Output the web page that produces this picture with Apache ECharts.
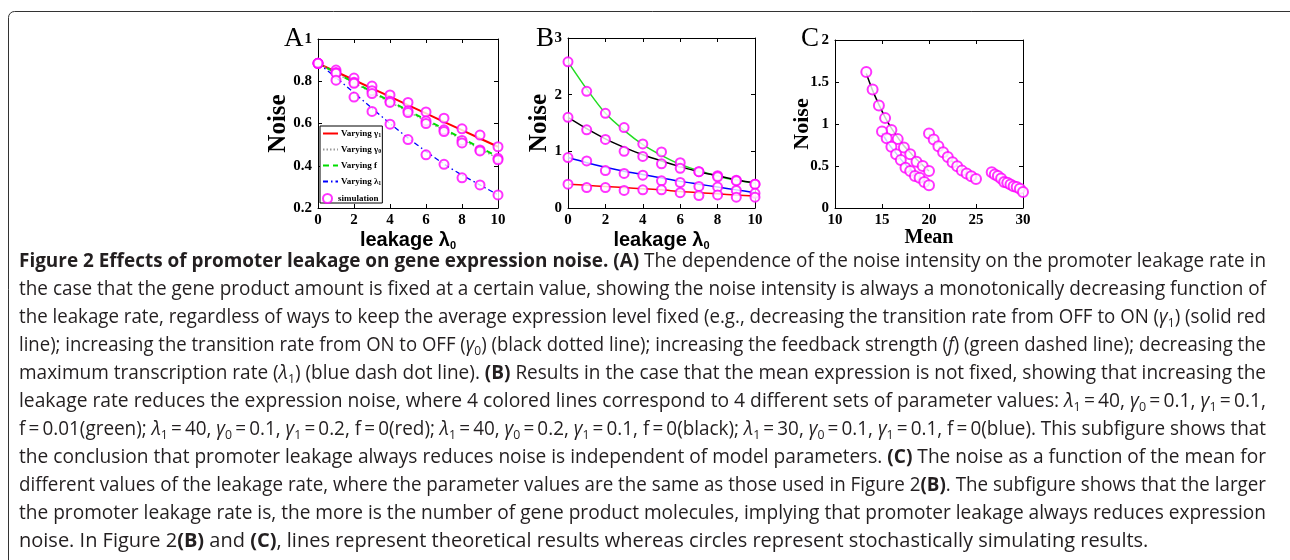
<!DOCTYPE html>
<html><head><meta charset="utf-8">
<script src="https://cdn.jsdelivr.net/npm/echarts/dist/echarts.min.js"></script>
<style>html,body{margin:0;padding:0;background:#fff}#c{width:1290px;height:560px}</style>
</head><body><div id="c"></div>
<script>
// ---------- data ----------
const xLeak = [0,1,2,3,4,5,6,7,8,9,10];
// Panel A (mean fixed)
const aRedLine   = [0.885,0.845,0.806,0.766,0.727,0.687,0.648,0.608,0.569,0.529,0.490];
const aGrayLine  = [0.885,0.838,0.792,0.746,0.701,0.656,0.612,0.568,0.524,0.479,0.435];
const aGreenLine = [0.885,0.840,0.795,0.750,0.706,0.662,0.618,0.574,0.530,0.486,0.442];
const aBlueLine  = [0.885,0.818,0.745,0.672,0.600,0.532,0.468,0.408,0.356,0.309,0.262];
const aRedSim    = [0.885,0.853,0.815,0.777,0.735,0.700,0.655,0.625,0.575,0.545,0.490];
const aGraySim   = [0.885,0.842,0.795,0.755,0.705,0.660,0.612,0.570,0.520,0.475,0.435];
const aGreenSim  = [0.885,0.838,0.790,0.742,0.700,0.652,0.600,0.562,0.508,0.470,0.428];
const aBlueSim   = [0.885,0.805,0.725,0.657,0.597,0.524,0.452,0.407,0.343,0.309,0.262];
// Panel B (mean not fixed)
const bGreenLine = [2.58,2.10,1.67,1.37,1.12,0.93,0.77,0.66,0.56,0.49,0.44];
const bBlackLine = [1.60,1.40,1.22,1.07,0.94,0.83,0.73,0.64,0.57,0.50,0.44];
const bBlueLine  = [0.89,0.80,0.72,0.65,0.59,0.53,0.47,0.42,0.37,0.32,0.27];
const bRedLine   = [0.42,0.40,0.38,0.36,0.34,0.32,0.29,0.27,0.25,0.23,0.21];
const bGreenSim  = [2.58,2.06,1.67,1.42,1.13,0.99,0.80,0.64,0.57,0.49,0.42];
const bBlackSim  = [1.60,1.38,1.21,1.00,0.91,0.78,0.70,0.64,0.55,0.48,0.42];
const bBlueSim   = [0.89,0.83,0.66,0.61,0.58,0.48,0.45,0.38,0.37,0.31,0.26];
const bRedSim    = [0.42,0.36,0.36,0.31,0.32,0.32,0.27,0.22,0.23,0.19,0.19];
// Panel C (noise vs mean)
const cMeanBlack = [13.33,14.0,14.67,15.33,16.0,16.67,17.33,18.0,18.67,19.33,20.0];
const cMeanBlue  = [15.0,15.5,16.0,16.5,17.0,17.5,18.0,18.5,19.0,19.5,20.0];
const cMeanGreen = [20.0,20.5,21.0,21.5,22.0,22.5,23.0,23.5,24.0,24.5,25.0];
const cMeanRed   = [26.67,27.0,27.33,27.67,28.0,28.33,28.67,29.0,29.33,29.67,30.0];
const cBlackLine = [1.60,1.40,1.23,1.08,0.95,0.84,0.74,0.66,0.58,0.51,0.44];
const cBlueLine  = [0.89,0.80,0.72,0.65,0.58,0.52,0.46,0.41,0.36,0.31,0.27];
const cGreenLine = [0.88,0.81,0.74,0.67,0.61,0.55,0.50,0.45,0.41,0.38,0.35];
const cRedLine   = [0.41,0.39,0.37,0.35,0.33,0.31,0.29,0.27,0.25,0.23,0.21];
const cBlackSim  = [1.62,1.41,1.22,1.07,0.93,0.82,0.72,0.64,0.55,0.50,0.44];
const cBlueSim   = [0.91,0.83,0.73,0.64,0.57,0.48,0.44,0.38,0.36,0.31,0.27];
const cGreenSim  = [0.887,0.815,0.736,0.664,0.608,0.545,0.497,0.445,0.41,0.378,0.346];
const cRedSim    = [0.425,0.40,0.38,0.35,0.31,0.30,0.28,0.26,0.25,0.23,0.19];
// Tick / label texts
const legendNames = ['Varying γ1','Varying γ0','Varying f','Varying λ1'];
const simName = 'simulation';
const panelLetters = ['A','B','C'];
const captionLines = [
 '{b|Figure 2 Effects of promoter leakage on gene expression noise. (A)} The dependence of the noise intensity on the promoter leakage rate in',
 'the case that the gene product amount is fixed at a certain value, showing the noise intensity is always a monotonically decreasing function of',
 'the leakage rate, regardless of ways to keep the average expression level fixed (e.g., decreasing the transition rate from OFF to ON ({i|γ}{s|1}) (solid red',
 'line); increasing the transition rate from ON to OFF ({i|γ}{s|0}) (black dotted line); increasing the feedback strength ({i|f}) (green dashed line); decreasing the',
 'maximum transcription rate ({i|λ}{s|1}) (blue dash dot line). {b|(B)} Results in the case that the mean expression is not fixed, showing that increasing the',
 'leakage rate reduces the expression noise, where 4 colored lines correspond to 4 different sets of parameter values: {i|λ}{s|1}\u2009=\u200940, {i|γ}{s|0}\u2009=\u20090.1, {i|γ}{s|1}\u2009=\u20090.1,',
 'f\u2009=\u20090.01(green); {i|λ}{s|1}\u2009=\u200940, {i|γ}{s|0}\u2009=\u20090.1, {i|γ}{s|1}\u2009=\u20090.2, f\u2009=\u20090(red); {i|λ}{s|1}\u2009=\u200940, {i|γ}{s|0}\u2009=\u20090.2, {i|γ}{s|1}\u2009=\u20090.1, f\u2009=\u20090(black); {i|λ}{s|1}\u2009=\u200930, {i|γ}{s|0}\u2009=\u20090.1, {i|γ}{s|1}\u2009=\u20090.1, f\u2009=\u20090(blue). This subfigure shows that',
 'the conclusion that promoter leakage always reduces noise is independent of model parameters. {b|(C)} The noise as a function of the mean for',
 'different values of the leakage rate, where the parameter values are the same as those used in Figure 2{b|(B)}. The subfigure shows that the larger',
 'the promoter leakage rate is, the more is the number of gene product molecules, implying that promoter leakage always reduces expression',
 'noise. In Figure 2{b|(B)} and {b|(C)}, lines represent theoretical results whereas circles represent stochastically simulating results.'
];

// ---------- helpers ----------
const zip = (xs, ys) => xs.map((x, i) => [x, ys[i]]);
const SERIF = 'Liberation Serif';
const CAP_FONT = 'Open Sans';
const CAP_SIZE = 20;
const SUB_SIZE = 13;
const CAP_COLOR = '#231f20';
const MAG = '#ff00ff';

const grids = [
  {left: 318, top: 39, width: 180, height: 169},
  {left: 568, top: 38, width: 187, height: 170},
  {left: 835, top: 40, width: 188, height: 168}
];
const xRanges = [[0,10,2],[0,10,2],[10,30,5]];
const yRanges = [[0.2,1,0.2],[0,3,1],[0,2,0.5]];

const tickLabel = {fontFamily: SERIF, fontWeight: 'bold', fontSize: 15, color: '#000'};
function axisBase(i, rng, pos) {
  return {type: 'value', gridIndex: i, min: rng[0], max: rng[1], interval: rng[2], position: pos,
    axisLine: {show: true, onZero: false, lineStyle: {color: '#000', width: 1}},
    axisTick: {show: true, inside: true, length: 4, lineStyle: {color: '#000'}},
    splitLine: {show: false}};
}
function mainX(i, name, nameStyle, gap) {
  return Object.assign(axisBase(i, xRanges[i], 'bottom'), {
    axisLabel: Object.assign({margin: 5}, tickLabel),
    name: name, nameLocation: 'middle', nameGap: gap, nameMoveOverlap: false, nameTextStyle: nameStyle});
}
function mirrorX(i) { return Object.assign(axisBase(i, xRanges[i], 'top'), {axisLabel: {show: false}}); }
function mainY(i, size, gap) {
  return Object.assign(axisBase(i, yRanges[i], 'left'), {
    axisLabel: Object.assign({margin: 6}, tickLabel),
    name: 'Noise', nameLocation: 'middle', nameRotate: 90, nameGap: gap, nameMoveOverlap: false,
    nameTextStyle: {fontFamily: SERIF, fontWeight: 'bold', fontSize: size, color: '#000'}});
}
function mirrorY(i) { return Object.assign(axisBase(i, yRanges[i], 'right'), {axisLabel: {show: false}}); }

const leakName = '{t|leakage λ}{s|0}';
const leakStyle = {rich: {
  t: {fontFamily: 'Liberation Sans', fontWeight: 'bold', fontSize: 20, color: '#000', lineHeight: 22},
  s: {fontFamily: 'Liberation Sans', fontWeight: 'bold', fontSize: 11, color: '#000', verticalAlign: 'bottom', lineHeight: 13}
}};
const meanStyle = {fontFamily: SERIF, fontWeight: 'bold', fontSize: 20, color: '#000'};

function lineS(name, xi, xs, ys, color, width, type, smooth) {
  return {name: name, type: 'line', xAxisIndex: xi, yAxisIndex: xi, data: zip(xs, ys),
    symbol: 'none', showSymbol: false, smooth: smooth ? 0.3 : false, silent: true,
    lineStyle: {color: color, width: width, type: type}, itemStyle: {color: color}, z: 2};
}
function simS(name, xi, xs, ys, size) {
  return {name: name, type: 'scatter', xAxisIndex: xi, yAxisIndex: xi, data: zip(xs, ys),
    symbol: 'emptyCircle', symbolSize: size, silent: true,
    itemStyle: {color: MAG, borderColor: MAG, borderWidth: 1.1}, z: 3};
}

const series = [
  lineS(legendNames[0], 0, xLeak, aRedLine, '#ff0000', 2, 'solid', false),
  lineS(legendNames[1], 0, xLeak, aGrayLine, '#9a9a9a', 1.5, [1.5, 2], false),
  lineS(legendNames[2], 0, xLeak, aGreenLine, '#00dd00', 2, [6, 4], false),
  lineS(legendNames[3], 0, xLeak, aBlueLine, '#0000ff', 1.3, [5, 3, 1.5, 3], true),
  simS(simName, 0, xLeak, aRedSim, 9),
  simS(simName, 0, xLeak, aGraySim, 9),
  simS(simName, 0, xLeak, aGreenSim, 9),
  simS(simName, 0, xLeak, aBlueSim, 9),
  lineS('B green', 1, xLeak, bGreenLine, '#22dd22', 1.5, 'solid', true),
  lineS('B black', 1, xLeak, bBlackLine, '#000000', 1.5, 'solid', true),
  lineS('B blue', 1, xLeak, bBlueLine, '#0000ff', 1.5, 'solid', true),
  lineS('B red', 1, xLeak, bRedLine, '#ff0000', 1.5, 'solid', true),
  simS('B sim1', 1, xLeak, bGreenSim, 9),
  simS('B sim2', 1, xLeak, bBlackSim, 9),
  simS('B sim3', 1, xLeak, bBlueSim, 9),
  simS('B sim4', 1, xLeak, bRedSim, 9),
  lineS('C black', 2, cMeanBlack, cBlackLine, '#000000', 1.5, 'solid', true),
  lineS('C blue', 2, cMeanBlue, cBlueLine, '#0000ff', 1.5, 'solid', true),
  lineS('C green', 2, cMeanGreen, cGreenLine, '#22dd22', 1.5, [5, 3], true),
  lineS('C red', 2, cMeanRed, cRedLine, '#ff0000', 1.5, [5, 3], true),
  simS('C sim1', 2, cMeanBlack, cBlackSim, 10),
  simS('C sim2', 2, cMeanBlue, cBlueSim, 10),
  simS('C sim3', 2, cMeanGreen, cGreenSim, 10),
  simS('C sim4', 2, cMeanRed, cRedSim, 10)
];

// ---------- caption (justified by horizontal scaling) ----------
function wrapPlain(str) {
  const re = /\{(\w+)\|([^}]*)\}|([^{]+)/g;
  let m, out = '';
  while ((m = re.exec(str)) !== null) out += m[1] ? m[0] : '{n|' + m[3] + '}';
  return out;
}
const capRich = {
  n: {fontFamily: CAP_FONT, fontSize: CAP_SIZE, fontWeight: 'normal', fill: CAP_COLOR, color: CAP_COLOR, lineHeight: 26},
  b: {fontFamily: CAP_FONT, fontSize: CAP_SIZE, fontWeight: 'bold', fill: CAP_COLOR, color: CAP_COLOR, lineHeight: 26},
  i: {fontFamily: CAP_FONT, fontSize: CAP_SIZE, fontStyle: 'italic', fill: CAP_COLOR, color: CAP_COLOR, lineHeight: 26},
  s: {fontFamily: CAP_FONT, fontSize: SUB_SIZE, fill: CAP_COLOR, color: CAP_COLOR, verticalAlign: 'bottom', lineHeight: 14}
};
const capLeft = 19, capRight = 1266, capTop = 261, capStep = 28;
function textWidth(txt) {
  try {
    const t = new echarts.graphic.Text({style: {text: txt, fontFamily: CAP_FONT, fontSize: CAP_SIZE, rich: capRich}});
    return t.getBoundingRect().width;
  } catch (e) { return 0; }
}
const graphics = [];
graphics.push({type: 'rect', shape: {x: 8.5, y: 11.5, width: 1300, height: 600, r: 6},
  style: {fill: null, stroke: '#333', lineWidth: 1}, silent: true});
captionLines.forEach((ln, k) => {
  const txt = wrapPlain(ln);
  const natural = textWidth(txt);
  const target = capRight - capLeft;
  let sx = 1;
  if (natural > 0 && (k < captionLines.length - 1 || natural > target)) {
    sx = Math.max(0.8, Math.min(1.12, target / natural));
  }
  graphics.push({type: 'text', x: capLeft, y: capTop + k * capStep, scaleX: sx, scaleY: 1, originX: 0, originY: 0,
    silent: true,
    style: {text: txt, fontFamily: CAP_FONT, fontSize: CAP_SIZE, fill: CAP_COLOR, lineHeight: 26,
      align: 'left', verticalAlign: 'middle', rich: capRich}});
});
const letterPos = [[284, 39], [536, 39], [801, 39]];
panelLetters.forEach((L, k) => {
  graphics.push({type: 'text', x: letterPos[k][0], y: letterPos[k][1], silent: true,
    style: {text: L, fontFamily: SERIF, fontSize: 27, fill: '#000', align: 'left', verticalAlign: 'middle'}});
});

const legendRich = {
  t: {fontFamily: SERIF, fontWeight: 'bold', fontSize: 9, color: '#000'},
  s: {fontFamily: SERIF, fontWeight: 'bold', fontSize: 6, color: '#000', verticalAlign: 'bottom', lineHeight: 8}
};
const legendFormatter = function (n) {
  const m = n.match(/^(.*?)([γλ])([01])$/);
  if (m) return '{t|' + m[1] + m[2] + '}{s|' + m[3] + '}';
  return '{t|' + n + '}';
};
const legendText = {rich: legendRich, fontFamily: SERIF, fontWeight: 'bold', fontSize: 9, color: '#000', padding: [0, 0, 0, -2]};

const option = {
  animation: false,
  backgroundColor: '#ffffff',
  grid: grids.map(g => Object.assign({containLabel: false, outerBoundsMode: 'none'}, g)),
  xAxis: [mainX(0, leakName, leakStyle, 21), mainX(1, leakName, leakStyle, 21), mainX(2, 'Mean', meanStyle, 20),
          mirrorX(0), mirrorX(1), mirrorX(2)],
  yAxis: [mainY(0, 25, 27), mainY(1, 25, 16), mainY(2, 22, 22), mirrorY(0), mirrorY(1), mirrorY(2)],
  legend: [{
    data: legendNames, orient: 'vertical', left: 320, top: 126, itemGap: 7, itemWidth: 15, itemHeight: 9,
    padding: [3, 1, 17, 2], borderColor: '#000', borderWidth: 1, backgroundColor: '#fff',
    selectedMode: false, z: 10, itemStyle: {opacity: 0},
    formatter: legendFormatter, textStyle: legendText
  }, {
    data: [simName], orient: 'vertical', left: 322, top: 193, itemWidth: 15, itemHeight: 9,
    padding: 0, selectedMode: false, z: 11,
    formatter: legendFormatter, textStyle: legendText
  }],
  series: series,
  graphic: graphics
};
const chart = echarts.init(document.getElementById('c'), null, {renderer: 'canvas'});
chart.setOption(option);
</script></body></html>
